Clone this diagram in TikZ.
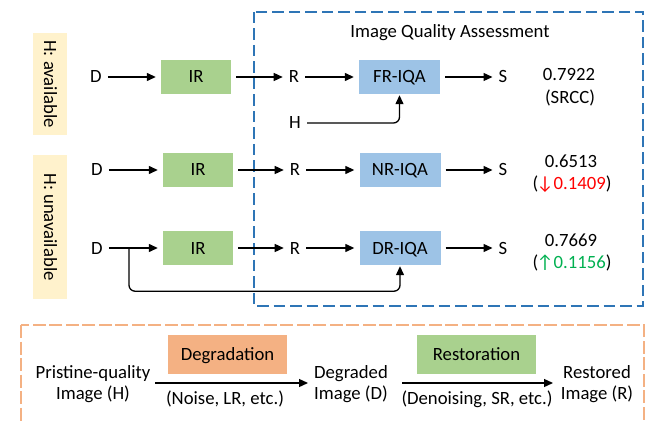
\documentclass[tikz,border=0pt]{standalone}
\usepackage{fontspec}
\setmainfont{Carlito}
\usetikzlibrary{arrows.meta,calc}
\definecolor{irgreen}{HTML}{A9D18E}
\definecolor{iqablue}{HTML}{9DC3E6}
\definecolor{degorange}{HTML}{F4B183}
\definecolor{hyellow}{HTML}{FFF2CC}
\definecolor{frameblue}{HTML}{2E75B6}
\definecolor{framorange}{HTML}{F4B183}
\definecolor{downred}{HTML}{FF0000}
\definecolor{upgreen}{HTML}{00B050}
\begin{document}
\begin{tikzpicture}[x=1pt,y=-1pt,
  every node/.style={font=\fontsize{18.7}{21}\selectfont},
  lbl/.style={inner sep=1pt, text height=12pt, text depth=0pt},
  gbox/.style={fill=irgreen, minimum width=70, minimum height=34, inner sep=0pt, text height=12pt, text depth=0pt},
  bbox/.style={fill=iqablue, minimum width=81, minimum height=34, inner sep=0pt, text height=12pt, text depth=0pt},
  wbox/.style={minimum width=119, minimum height=39, inner sep=0pt, text height=12pt, text depth=0pt},
  ybox/.style={fill=hyellow, rotate=-90, minimum height=34, inner sep=0pt, text height=12pt, text depth=0pt},
  arr/.style={-{Triangle[length=9pt,width=8pt]}, line width=1.3pt, shorten <=5pt, shorten >=5pt},
  frame/.style={line width=2.5pt}]
\useasboundingbox (0,0) rectangle (645,422);

% frames
\draw[frame, frameblue, dash pattern=on 11.5pt off 5pt] (254,12) rectangle (643,306);
\draw[frame, framorange, dash pattern=on 13pt off 3.5pt] (21,325) rectangle (644,432);

% side labels
\node[ybox, minimum width=102] (havail) at (50,84) {H: available};
\node[ybox, minimum width=144] (hunavail) at (50,227) {H: unavailable};

\node[lbl] (title) at (450,32) {Image Quality Assessment};

% row 1
\node[lbl] (D1) at (96,77) {D};
\node[gbox] (IR1) at (196,77) {IR};
\node[lbl] (R1) at (294,77) {R};
\node[bbox] (FR) at (399.5,77) {FR-IQA};
\node[lbl] (S1) at (503,77) {S};
\node[lbl] (H) at (295,123) {H};
\node[lbl] (s1a) at (569,75) {0.7922};
\node[lbl] (s1b) at (570,98) {(SRCC)};
\draw[arr] (D1) -- (IR1);
\draw[arr] (IR1) -- (R1);
\draw[arr] (R1) -- (FR);
\draw[arr] (FR) -- (S1);
\draw[arr, shorten >=1pt, rounded corners=6pt] (H) -- (H -| FR.south) -- (FR.south);

% row 2
\node[lbl] (D2) at (97,170) {D};
\node[gbox] (IR2) at (198,170) {IR};
\node[lbl] (R2) at (295,170) {R};
\node[bbox] (NR) at (400,170) {NR-IQA};
\node[lbl] (S2) at (503,170) {S};
\node[lbl] (s2a) at (571,162) {0.6513};
\node[lbl] (s2b) at (572,184) {(\kern-1.5pt\textcolor{downred}{↓0.1409})};
\draw[arr] (D2) -- (IR2);
\draw[arr] (IR2) -- (R2);
\draw[arr] (R2) -- (NR);
\draw[arr] (NR) -- (S2);

% row 3
\node[lbl] (D3) at (97,248) {D};
\node[gbox] (IR3) at (198,248) {IR};
\node[lbl] (R3) at (295,248) {R};
\node[bbox] (DR) at (400,248) {DR-IQA};
\node[lbl] (S3) at (503,248) {S};
\node[lbl] (s3a) at (571,240) {0.7669};
\node[lbl] (s3b) at (572,262) {(\kern-1.5pt\textcolor{upgreen}{↑0.1156})};
\draw[arr] (D3) -- (IR3);
\draw[arr] (IR3) -- (R3);
\draw[arr] (R3) -- (DR);
\draw[arr] (DR) -- (S3);
\coordinate (fb) at (129,248);
\draw[arr, shorten <=0pt, shorten >=1pt, rounded corners=6pt] (fb) |- ($(DR.south)+(0,26)$) -- (DR.south);

% bottom legend
\node[lbl] (P1) at (93,372) {Pristine-quality};
\node[lbl] (P2) at (93,393) {Image (H)};
\node[wbox, fill=degorange] (deg) at (227.5,354.5) {Degradation};
\node[lbl] (noise) at (225,398) {(Noise, LR, etc.)};
\node[lbl] (Dd1) at (351,372) {Degraded};
\node[lbl] (Dd2) at (351,393) {Image (D)};
\node[wbox, fill=irgreen] (res) at (476.5,354.5) {Restoration};
\node[lbl] (den) at (477,398) {(Denoising, SR, etc.)};
\node[lbl] (Rr1) at (597,372) {Restored};
\node[lbl] (Rr2) at (597,393) {Image (R)};
\coordinate (g0) at (155,383);
\coordinate (g1) at (308,383);
\coordinate (r0) at (402,383);
\coordinate (r1) at (553,383);
\draw[arr, shorten <=0pt, shorten >=0pt] (g0) -- (g1);
\draw[arr, shorten <=0pt, shorten >=0pt] (r0) -- (r1);
\end{tikzpicture}
\end{document}
